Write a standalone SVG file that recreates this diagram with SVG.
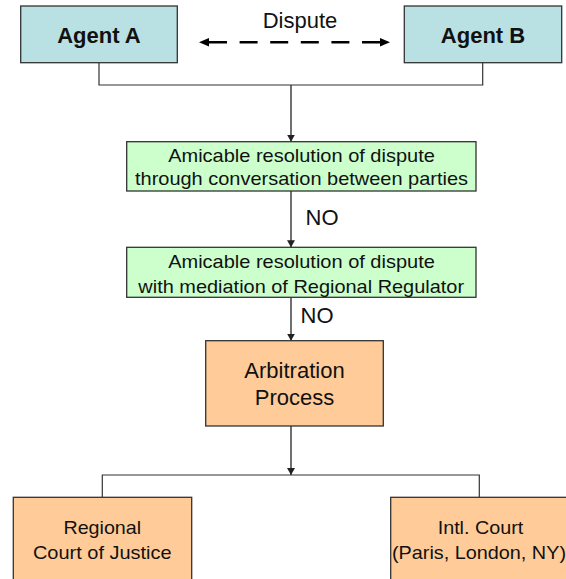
<svg xmlns="http://www.w3.org/2000/svg" width="566" height="579" viewBox="0 0 566 579">
<style>
.box{stroke:#333;stroke-width:1.3}
.blue{fill:#B9E0E3}
.green{fill:#CCFFCC}
.orange{fill:#FFCC99}
.t{font-family:"Liberation Sans",Arial,sans-serif;fill:#111;text-anchor:middle}
.b{font-weight:bold;font-size:22px}
.m{font-size:18.5px}
.l{font-size:22px}
.c{fill:none;stroke:#333;stroke-width:1.2}
.a{fill:none;stroke:#333;stroke-width:1.4}
</style>
<defs>
<marker id="ah" markerUnits="userSpaceOnUse" markerWidth="8" markerHeight="8" refX="7" refY="4" orient="auto"><path d="M0,0 L7,4 L0,8 z" fill="#222"/></marker>
<marker id="dh" markerUnits="userSpaceOnUse" markerWidth="11" markerHeight="10" refX="0" refY="5" orient="auto-start-reverse"><path d="M0,0.8 L10,5 L0,9.2 z" fill="#000"/></marker>
</defs>
<rect width="566" height="579" fill="#fff"/>
<g id="connectors">
<polyline class="c" points="99,62.7 99,85 482.7,85 482.7,62.7"/>
<line class="a" x1="291" y1="85" x2="291" y2="141.7" marker-end="url(#ah)"/>
<line class="a" x1="291" y1="191" x2="291" y2="247.3" marker-end="url(#ah)"/>
<line class="a" x1="291" y1="297.3" x2="291" y2="340.7" marker-end="url(#ah)"/>
<line class="a" x1="291" y1="426" x2="291" y2="475" marker-end="url(#ah)"/>
<polyline class="c" points="102.3,497.3 102.3,475 479.3,475 479.3,497.3"/>
<line x1="209" y1="42.3" x2="380" y2="42.3" stroke="#000" stroke-width="2.6" stroke-dasharray="18 12.6" marker-start="url(#dh)" marker-end="url(#dh)"/>
<text class="t l" x="300" y="27.7">Dispute</text>
<text class="t l" x="322" y="225" font-size="21">NO</text>
<text class="t l" x="317" y="323.3" font-size="21">NO</text>
</g>
<g id="agentA">
<rect class="box blue" x="20.7" y="6" width="156.6" height="56.7"/>
<text class="t b" x="99" y="43.3">Agent A</text>
</g>
<g id="agentB">
<rect class="box blue" x="404.3" y="6" width="157.4" height="56.7"/>
<text class="t b" x="483" y="43.3">Agent B</text>
</g>
<g id="amicable1">
<rect class="box green" x="126.7" y="141.7" width="349.3" height="49.3"/>
<text class="t m" x="301.5" y="161.7" textLength="266.7" lengthAdjust="spacingAndGlyphs">Amicable resolution of dispute</text>
<text class="t m" x="301.5" y="185" textLength="333" lengthAdjust="spacingAndGlyphs">through conversation between parties</text>
</g>
<g id="amicable2">
<rect class="box green" x="126.7" y="247.3" width="349.3" height="50"/>
<text class="t m" x="301.5" y="268" textLength="266.7" lengthAdjust="spacingAndGlyphs">Amicable resolution of dispute</text>
<text class="t m" x="301.2" y="292.7" textLength="325.7" lengthAdjust="spacingAndGlyphs">with mediation of Regional Regulator</text>
</g>
<g id="arbitration">
<rect class="box orange" x="205.7" y="340.7" width="177.6" height="85.3"/>
<text class="t l" x="294.5" y="377.7">Arbitration</text>
<text class="t l" x="294.5" y="405">Process</text>
</g>
<g id="regional">
<rect class="box orange" x="13.3" y="497.3" width="178.4" height="90"/>
<text class="t m" x="102.3" y="534" textLength="77.7" lengthAdjust="spacingAndGlyphs">Regional</text>
<text class="t m" x="102.3" y="559.3" textLength="138.7" lengthAdjust="spacingAndGlyphs">Court of Justice</text>
</g>
<g id="intl">
<rect class="box orange" x="390.7" y="497.3" width="178.4" height="90"/>
<text class="t m" x="480.5" y="534" textLength="85.7" lengthAdjust="spacingAndGlyphs">Intl. Court</text>
<text class="t m" x="479" y="559.3" textLength="174" lengthAdjust="spacingAndGlyphs">(Paris, London, NY)</text>
</g>
</svg>
